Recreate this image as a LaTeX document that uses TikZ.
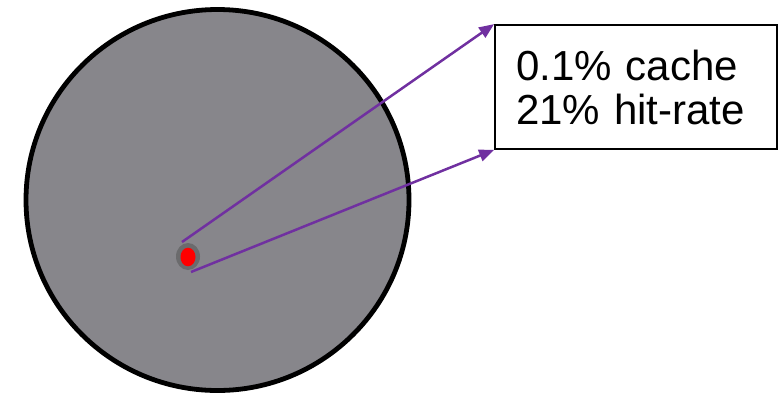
\documentclass[tikz,border=0pt]{standalone}
\usepackage{fontspec}
\setmainfont{Liberation Sans}
\usetikzlibrary{arrows.meta}
\definecolor{diskgray}{HTML}{87868B}
\definecolor{coregray}{HTML}{6B6B6D}
\definecolor{arrowpurple}{HTML}{7030A0}
\tikzset{
  disk/.style={draw=black, line width=4.8pt, fill=diskgray},
  core/.style={fill=coregray},
  hot/.style={fill=red},
  label box/.style={draw=black, line width=1.8pt, fill=white, minimum width=282pt, minimum height=124pt,
    inner xsep=21pt, inner ysep=0pt, text width=240pt, align=left, font=\fontsize{42}{44}\selectfont},
  pointer/.style={draw=arrowpurple, line width=2.5pt, -{Triangle[length=15pt,width=12pt]}}
}
\begin{document}
\begin{tikzpicture}[x=1pt,y=-1pt]
\useasboundingbox (0,0) rectangle (783,397);
\draw[disk] (217.5,200) ellipse [x radius=191.5, y radius=190.5];
\fill[core] (188,256.5) ellipse [x radius=12, y radius=13.5];
\fill[hot] (188,257) ellipse [x radius=7.5, y radius=9.3];
\node[label box] (box) at (636,87) {0.1\% cache\\21\% hit-rate};
\coordinate (s1) at (182,242);
\coordinate (s2) at (191,272);
\draw[pointer] (s1) -- (box.north west);
\draw[pointer] (s2) -- (box.south west);
\end{tikzpicture}
\end{document}
